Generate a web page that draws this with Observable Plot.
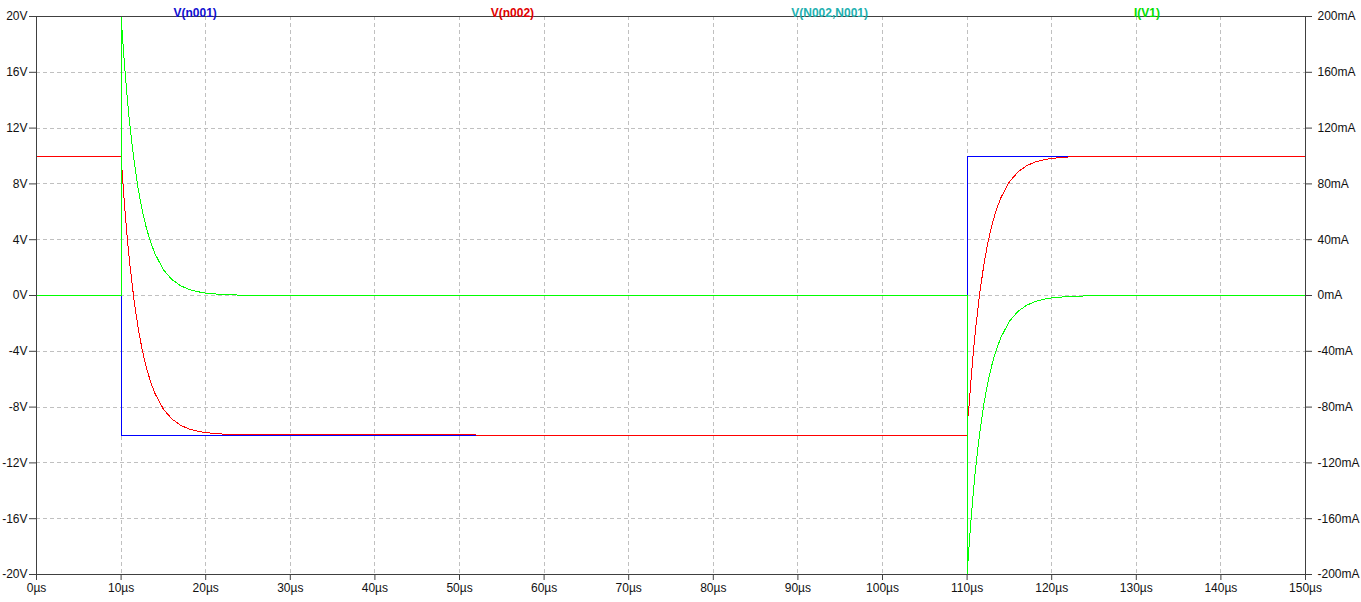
<!DOCTYPE html>
<html>
<head>
<meta charset="utf-8">
<script src="https://cdn.jsdelivr.net/npm/d3@7"></script>
<script src="https://cdn.jsdelivr.net/npm/@observablehq/plot@0.6"></script>
<style>
  html, body { margin: 0; padding: 0; background: #fff; overflow: hidden; }
  svg { display: block; }
</style>
</head>
<body>
<div id="chart"></div>
<script>
// ---- data ----
const timeTicks = [0, 10, 20, 30, 40, 50, 60, 70, 80, 90, 100, 110, 120, 130, 140, 150]; // µs
const voltTicks = [-20, -16, -12, -8, -4, 0, 4, 8, 12, 16, 20];                         // V
const currentTicks = [-200, -160, -120, -80, -40, 0, 40, 80, 120, 160, 200];             // mA

const traceNames = ["V(n001)", "V(n002)", "V(N002,N001)", "I(V1)"];

// V(n001)
const n001Time = [0, 10, 10, 110, 110, 150];
const n001Volt = [10, 10, -10, -10, 10, 10];

// V(n002)
const n002Time = [0, 10, 10.05, 10.25, 10.5, 10.75, 11, 11.5, 12, 12.5, 13, 13.5, 14, 15, 16, 17, 18, 19, 20, 22, 24, 52,
                  110, 110.05, 110.25, 110.5, 110.75, 111, 111.5, 112, 112.5, 113, 113.5, 114, 115, 116, 117, 118, 119, 120, 122, 124, 150];
const n002Volt = [10, 10, 9.5, 7.76, 5.76, 4.0, 2.42, -0.2, -2.28, -3.92, -5.2, -6.22, -7.02, -8.15, -8.85, -9.29, -9.56, -9.72, -9.83, -9.93, -9.97, -10,
                  -10, -9.0, -7.76, -5.76, -4.0, -2.42, 0.2, 2.28, 3.92, 5.2, 6.22, 7.02, 8.15, 8.85, 9.29, 9.56, 9.72, 9.83, 9.93, 9.97, 10];

// V(N002,N001)
const diffTime = [0, 10, 10, 10.25, 10.5, 10.75, 11, 11.5, 12, 12.5, 13, 13.5, 14, 15, 16, 17, 18, 19, 20, 22, 24, 26,
                  110, 110, 110.25, 110.5, 110.75, 111, 111.5, 112, 112.5, 113, 113.5, 114, 115, 116, 117, 118, 119, 120, 122, 124, 126, 150];
const diffVolt = [0, 0, 20, 17.8, 15.8, 14.0, 12.4, 9.8, 7.7, 6.1, 4.8, 3.8, 3.0, 1.85, 1.15, 0.71, 0.44, 0.28, 0.17, 0.07, 0.03, 0,
                  0, -20, -17.8, -15.8, -14.0, -12.4, -9.8, -7.7, -6.1, -4.8, -3.8, -3.0, -1.85, -1.15, -0.71, -0.44, -0.28, -0.17, -0.07, -0.03, 0, 0];

// I(V1)
const iv1Time = [0, 10, 10, 10.25, 10.5, 10.75, 11, 11.5, 12, 12.5, 13, 13.5, 14, 15, 16, 17, 18, 19, 20, 22, 24, 26,
                 110, 110, 110.25, 110.5, 110.75, 111, 111.5, 112, 112.5, 113, 113.5, 114, 115, 116, 117, 118, 119, 120, 122, 124, 126, 150];
const iv1mA = [0, 0, 200, 178, 158, 140, 124, 98, 77, 61, 48, 38, 30, 18.5, 11.5, 7.1, 4.4, 2.8, 1.7, 0.7, 0.3, 0,
               0, -200, -178, -158, -140, -124, -98, -77, -61, -48, -38, -30, -18.5, -11.5, -7.1, -4.4, -2.8, -1.7, -0.7, -0.3, 0, 0];

// ---- styles ----
const style = {
  colors: ["#0000ff", "#ff0000", "#22b0b0", "#00ff00"],
  labelColors: ["#1010d0", "#e00000", "#22b0b0", "#00e000"],
  grid: "#c0c0c0",
  frame: "#404040",
  text: "#111111",
  font: "'Liberation Sans', Arial, sans-serif"
};

// ---- tables built from the arrays ----
const n001 = n001Time.map((t, i) => ({t, v: n001Volt[i]}));
const n002 = n002Time.map((t, i) => ({t, v: n002Volt[i]}));
const diff = diffTime.map((t, i) => ({t, v: diffVolt[i]}));
const iv1 = iv1Time.map((t, i) => ({t, mA: iv1mA[i]}));

const xMin = timeTicks[0], xMax = timeTicks[timeTicks.length - 1];
const mAperV = currentTicks[currentTicks.length - 1] / voltTicks[voltTicks.length - 1];

const labelMarks = traceNames.map((name, i) =>
  Plot.text([name], {
    x: xMin + (xMax - xMin) * (i + 0.5) / traceNames.length,
    text: d => d,
    frameAnchor: "top",
    dy: -8,
    fill: style.labelColors[i],
    fontWeight: "bold",
    fontSize: 12
  })
);

const lineOpts = { strokeWidth: 1, shapeRendering: "crispEdges" };

const chart = Plot.plot({
  width: 1361,
  height: 602,
  marginLeft: 36,
  marginRight: 56,
  marginTop: 16,
  marginBottom: 28,
  style: { fontFamily: style.font, fontSize: "12px", color: style.text, background: "#fff" },
  x: { domain: [xMin, xMax] },
  y: { domain: [voltTicks[0], voltTicks[voltTicks.length - 1]] },
  marks: [
    Plot.ruleX(timeTicks.slice(1, -1), { stroke: style.grid, strokeDasharray: "4,3", strokeWidth: 1, shapeRendering: "crispEdges" }),
    Plot.ruleY(voltTicks.slice(1, -1), { stroke: style.grid, strokeDasharray: "4,3", strokeWidth: 1, shapeRendering: "crispEdges" }),
    Plot.line(n001, { x: "t", y: "v", stroke: style.colors[0], ...lineOpts }),
    Plot.line(n002, { x: "t", y: "v", stroke: style.colors[1], ...lineOpts }),
    Plot.line(diff, { x: "t", y: "v", stroke: style.colors[2], ...lineOpts }),
    Plot.line(iv1, { x: "t", y: d => d.mA / mAperV, stroke: style.colors[3], ...lineOpts }),
    Plot.frame({ stroke: style.frame, strokeWidth: 1, shapeRendering: "crispEdges" }),
    Plot.axisX({ ticks: timeTicks, tickFormat: d => d + "µs", tickSize: 6, tickPadding: 3, label: null, stroke: style.frame, fill: style.text }),
    Plot.axisY({ anchor: "left", ticks: voltTicks, tickFormat: d => d + "V", tickSize: 7, tickPadding: 2, label: null, stroke: style.frame, fill: style.text }),
    Plot.axisY({ anchor: "right", ticks: voltTicks, tickFormat: d => currentTicks[voltTicks.indexOf(d)] + "mA", tickSize: 6, tickPadding: 6, label: null, stroke: style.frame, fill: style.text }),
    ...labelMarks
  ]
});

document.getElementById("chart").appendChild(chart);
</script>
</body>
</html>
